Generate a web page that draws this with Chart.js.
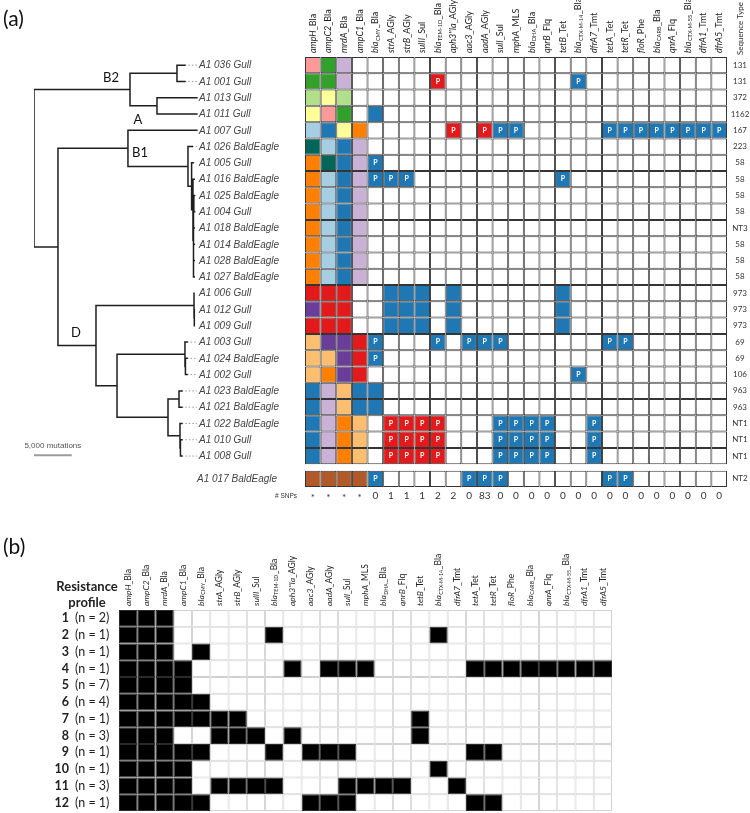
<!DOCTYPE html>
<html>
<head>
<meta charset="utf-8">
<script src="https://cdn.jsdelivr.net/npm/chart.js@4.4.0/dist/chart.umd.min.js"></script>
<style>
body{margin:0;background:#fff;}
#wrapA{position:absolute;left:0;top:0;width:750px;height:525px;}
#wrapB{position:absolute;left:0;top:525px;width:750px;height:288px;}
</style>
</head>
<body>
<div id="wrapA"><canvas id="chartA"></canvas></div>
<div id="wrapB"><canvas id="chartB"></canvas></div>
<script>
// gene columns, '|' marks the subscript part of bla names
var genes = ['ampH_Bla','ampC2_Bla','mrdA_Bla','ampC1_Bla','bla|CMY_Bla','strA_AGly','strB_AGly','sulII_Sul',
    'bla|TEM-1D_Bla',"aph3''Ia_AGly",'aac3_AGly','aadA_AGly','sulI_Sul','mphA_MLS','bla|DHA_Bla','qnrB_Flq',
    'tetB_Tet','bla|CTX-M-14_Bla','dfrA7_Tmt','tetA_Tet','tetR_Tet','floR_Phe','bla|CARB_Bla','qnrA_Flq',
    'bla|CTX-M-55_Bla','dfrA1_Tmt','dfrA5_Tmt']

var isolates = ['A1 036 Gull','A1 001 Gull','A1 013 Gull','A1 011 Gull','A1 007 Gull','A1 026 BaldEagle',
    'A1 005 Gull','A1 016 BaldEagle','A1 025 BaldEagle','A1 004 Gull','A1 018 BaldEagle','A1 014 BaldEagle',
    'A1 028 BaldEagle','A1 027 BaldEagle','A1 006 Gull','A1 012 Gull','A1 009 Gull','A1 003 Gull',
    'A1 024 BaldEagle','A1 002 Gull','A1 023 BaldEagle','A1 021 BaldEagle','A1 022 BaldEagle','A1 010 Gull',
    'A1 008 Gull','A1 017 BaldEagle']
var rowPos = [1,2,3,4,5,6,7,8,9,10,11,12,13,14,15,16,17,18,19,20,21,22,23,24,25,26.4]
var seqTypes = ['131','131','372','1162','167','223','58','58','58','58','NT3','58','58','58',
    '973','973','973','69','69','106','963','963','NT1','NT1','NT1','NT2']

// allele types of the first four genes
var alleles = [
    ['pk','g','lp',''], ['g','g','lp',''], ['lg','y','lg',''], ['y','pk','g',''],
    ['lb','b','y','o'], ['t','lb','b','lp'], ['o','t','b','lp'],
    ['o','lb','b','lp'], ['o','lb','b','lp'], ['o','lb','b','lp'], ['o','lb','b','lp'],
    ['o','lb','b','lp'], ['o','lb','b','lp'], ['o','lb','b','lp'],
    ['r','r','r',''], ['pu','r','r',''], ['r','r','r',''],
    ['lo','pu','pu','r'], ['lo','lo','pu','r'], ['lo','o','pu','r'],
    ['b','lp','lo','b'], ['b','lp','lo','b'],
    ['b','lp','o','lo'], ['b','lp','o','lo'], ['b','lp','o','lo'],
    ['br','br','br','br']
]
var alleleColor = {pk:'#fb9a99', g:'#33a02c', lp:'#cab2d6', lg:'#b2df8a', y:'#ffff99', lb:'#a6cee3',
    b:'#1f78b4', o:'#ff7f00', t:'#006658', r:'#e31a1c', pu:'#6a3d9a', lo:'#fdbf6f', br:'#b15928', '':'#ffffff'}

// genes 5..27: b = blue, B = blue plasmid, R = red plasmid
var genesFound = [
    '.......................', '....R........B.........', '.......................', 'b......................',
    '.....R.RBB.....BBBBBBBB', '.......................', 'B......................', 'BBB.........B..........',
    '.......................', '.......................', '.......................', '.......................',
    '.......................', '.......................',
    '.bbb.b......b..........', '.bbb.b......b..........', '.bbb.b......b..........',
    'B...B.BBB......BB......', 'B......................', '.............B.........',
    'b......................', 'b......................',
    '.RRRR...BBBB..B........', '.RRRR...BBBB..B........', '.RRRR...BBBB..B........',
    'B.....BBB......BB......'
]
var snps = ['*','*','*','*','0','1','1','1','2','2','0','83','0','0','0','0','0','0','0','0','0','0','0','0','0','0','0']

// tree: tip and node depths in mutations, node children (number = leaf row, 'nX' = node)
var tipDepth = [20000,20000,21600,21600,21600,21000,21100,21250,21300,21300,21250,21250,21250,21250,
    21300,21300,21300,20300,20300,20300,19600,19600,19600,19600,19600]
var nodeDepth = [0,12730,18960,16310,3180,12460,20420,20900,21080,21150,21200,8220,21220,21260,
    11010,20020,20080,17770,19230,19360,19420]
var nodeKids = [['n1','n4'],['n2','n3'],[0,1],[2,3],['n5','n11'],[4,'n6'],[5,'n7'],[6,'n8'],[7,'n9'],
    ['n10',10,11,12,13],[8,9],['n12','n14'],[14,'n13'],[15,16],['n15','n17'],[17,'n16'],[18,19],
    ['n18','n19'],[20,21],[22,'n20'],[23,24]]
var labelDepth = 21750
var cladeNames = ['B2','A','B1','D']
var cladeX = [10210,13790,14060,5570]
var cladeY = [1.79,4.37,6.4,17.45]
var scaleBar = 5000

// panel (b)
var profileCounts = [2,1,1,1,7,4,1,3,1,1,3,1]
var profiles = [
    'xxx........................', 'xxx.....x........x.........', 'xxx.x......................',
    'xxxx.....x.xxx.....xxxxxxxx', 'xxxx.......................', 'xxxxx......................',
    'xxxxxxx.........x..........', 'xxx..xxx.x......x..........', 'xxxxx...x.xxx......xx......',
    'xxxx.............x.........', 'xxxx.xxxx...xxxx..x........', 'xxxxx.....xxx......xx......'
]

function nodeY(k){
    if (typeof k === 'number') return rowPos[k]
    var kids = nodeKids[+k.slice(1)]
    return (nodeY(kids[0]) + nodeY(kids[kids.length-1])) / 2
}
function nodeX(k){
    return typeof k === 'number' ? tipDepth[k] : nodeDepth[+k.slice(1)]
}

var treeSegs = []
for (var n = 0; n < nodeKids.length; n++){
    var kids = nodeKids[n], d = nodeDepth[n]
    treeSegs.push({x:d, y:nodeY(kids[0])}, {x:d, y:nodeY(kids[kids.length-1])}, {x:null, y:null})
    kids.forEach(function(k){
        treeSegs.push({x:d, y:nodeY(k)}, {x:nodeX(k), y:nodeY(k)}, {x:null, y:null})
    })
}
var guideSegs = []
tipDepth.forEach(function(t, i){
    if (labelDepth - t > 500) guideSegs.push({x:t, y:rowPos[i]}, {x:labelDepth - 150, y:rowPos[i]}, {x:null, y:null})
})

function cellColor(i, j){
    if (j < 4) return alleleColor[alleles[i][j]]
    var c = genesFound[i][j-4]
    if (c === 'R') return '#e31a1c'
    if (c === 'B' || c === 'b') return '#1f78b4'
    return '#ffffff'
}

function drawGene(ctx, name, x, y, size){
    var cut = name.lastIndexOf('_')
    var gene = name.slice(0, cut), suffix = name.slice(cut), sub = ''
    if (gene.indexOf('|') >= 0){ sub = gene.split('|')[1]; gene = gene.split('|')[0] }
    ctx.save()
    ctx.translate(x, y)
    ctx.rotate(-Math.PI/2)
    ctx.textAlign = 'left'
    ctx.textBaseline = 'middle'
    var pos = 0
    ctx.font = 'italic ' + size + 'px Lato'
    ctx.fillText(gene, pos, 0)
    pos += ctx.measureText(gene).width
    if (sub){
        ctx.font = (size*0.62) + 'px Lato'
        ctx.fillText(sub, pos + 0.5, size*0.3)
        pos += ctx.measureText(sub).width + 1
    }
    ctx.font = size + 'px Lato'
    ctx.fillText(suffix, pos, 0)
    ctx.restore()
}

var barsA = genes.map(function(g, j){
    return {
        type: 'bar', indexAxis: 'y', grouped: false, xAxisID: 'x', yAxisID: 'y',
        data: rowPos.map(function(p){ return {y:p, x:[j, j+1]} }),
        backgroundColor: rowPos.map(function(p, i){ return cellColor(i, j) }),
        borderColor: '#353535', borderWidth: 1, borderSkipped: false, inflateAmount: 0,
        barPercentage: 1, categoryPercentage: 1
    }
})

var panelA = {
    id: 'panelA',
    afterDatasetsDraw: function(chart){
        var ctx = chart.ctx, x = chart.scales.x, xt = chart.scales.xt, y = chart.scales.y
        ctx.save()
        ctx.fillStyle = '#111'
        ctx.font = '21px Lato'
        ctx.textAlign = 'left'
        ctx.textBaseline = 'middle'
        ctx.fillText('(a)', 3, 19)

        ctx.fillStyle = '#222'
        genes.forEach(function(g, j){ drawGene(ctx, g, x.getPixelForValue(j + 0.5), 53, 9) })
        ctx.save()
        ctx.translate(740, 55)
        ctx.rotate(-Math.PI/2)
        ctx.font = '8px Lato'
        ctx.fillStyle = '#333'
        ctx.fillText('Sequence Type', 0, 0)
        ctx.restore()

        ctx.font = '8px Lato'
        ctx.fillStyle = '#333'
        ctx.textAlign = 'center'
        seqTypes.forEach(function(s, i){ ctx.fillText(s, 740, y.getPixelForValue(rowPos[i])) })

        ctx.font = 'italic 10px "Liberation Sans"'
        ctx.fillStyle = '#444'
        ctx.textAlign = 'left'
        isolates.forEach(function(s, i){
            var lx = xt.getPixelForValue(labelDepth) + (i === 25 ? -1 : 1)
            ctx.fillText(s, lx, y.getPixelForValue(rowPos[i]) + 0.5)
        })

        ctx.font = '13px Lato'
        ctx.fillStyle = '#111'
        ctx.textAlign = 'center'
        cladeNames.forEach(function(c, i){ ctx.fillText(c, xt.getPixelForValue(cladeX[i]), y.getPixelForValue(cladeY[i])) })

        ctx.font = 'bold 7px Lato'
        ctx.fillStyle = '#ffffff'
        genesFound.forEach(function(r, i){
            for (var j = 0; j < r.length; j++){
                if (r[j] === 'B' || r[j] === 'R')
                    ctx.fillText('P', x.getPixelForValue(j + 4.5), y.getPixelForValue(rowPos[i]))
            }
        })

        var sy = y.getPixelForValue(rowPos[25]) + 17
        ctx.fillStyle = '#333'
        ctx.font = '10px Lato'
        snps.forEach(function(s, j){ ctx.fillText(s, x.getPixelForValue(j + 0.5), sy + (s === '*' ? 2 : 0)) })
        ctx.font = '6.5px "Liberation Sans"'
        ctx.textAlign = 'right'
        ctx.fillText('# SNPs', 297, sy)

        ctx.font = '8px "Liberation Sans"'
        ctx.fillStyle = '#555'
        ctx.textAlign = 'center'
        ctx.fillText('5,000 mutations', xt.getPixelForValue(scaleBar/2), y.getPixelForValue(24.95) - 9)
        ctx.restore()
    }
}

var chartA = new Chart(document.getElementById('chartA').getContext('2d'), {
    type: 'scatter',
    data: {
        datasets: [{
            data: treeSegs, xAxisID: 'xt', yAxisID: 'y', showLine: true, pointRadius: 0,
            borderColor: '#1e1e1e', borderWidth: 1.5, borderCapStyle: 'square', spanGaps: false
        }, {
            data: guideSegs, xAxisID: 'xt', yAxisID: 'y', showLine: true, pointRadius: 0,
            borderColor: '#9a9a9a', borderWidth: 1, borderDash: [1.5, 2], spanGaps: false
        }, {
            data: [{x:0, y:24.95}, {x:scaleBar, y:24.95}], xAxisID: 'xt', yAxisID: 'y', showLine: true,
            pointRadius: 0, borderColor: '#9a9a9a', borderWidth: 2
        }].concat(barsA)
    },
    options: {
        responsive: true, maintainAspectRatio: false, animation: false, events: [],
        layout: {padding: {left: 34, right: 23, top: 57, bottom: 38}},
        plugins: {legend: {display: false}, tooltip: {enabled: false}},
        scales: {
            x: {type: 'linear', display: false, min: -17.34, max: 27, offset: false},
            xt: {type: 'linear', position: 'bottom', display: false, min: 0, max: 91900, offset: false},
            y: {type: 'linear', display: false, reverse: true, min: 0.5, max: 26.9, offset: false, ticks: {stepSize: 100}}
        }
    },
    plugins: [panelA]
});

var rowsB = profiles.map(function(p, i){ return i + 1 })
var barsB = genes.map(function(g, j){
    return {
        type: 'bar', indexAxis: 'y', grouped: false,
        data: rowsB.map(function(r){ return {y:r, x:[j, j+1]} }),
        backgroundColor: profiles.map(function(p){ return p[j] === 'x' ? '#000000' : '#ffffff' }),
        borderColor: profiles.map(function(p){ return p[j] === 'x' ? '#2a2a2a' : '#d2d2d2' }),
        borderWidth: 1, borderSkipped: false, inflateAmount: 0,
        barPercentage: 1, categoryPercentage: 1
    }
})

var panelB = {
    id: 'panelB',
    afterDatasetsDraw: function(chart){
        var ctx = chart.ctx, x = chart.scales.x, y = chart.scales.y
        ctx.save()
        ctx.fillStyle = '#111'
        ctx.font = '21px Lato'
        ctx.textAlign = 'left'
        ctx.textBaseline = 'middle'
        ctx.fillText('(b)', 3, 22)

        ctx.fillStyle = '#222'
        genes.forEach(function(g, j){ drawGene(ctx, g, x.getPixelForValue(j + 0.5), 81, 8.5) })

        ctx.font = 'bold 13px Lato'
        ctx.textAlign = 'center'
        ctx.fillText('Resistance', 87, 62)
        ctx.fillText('profile', 87, 78)

        profileCounts.forEach(function(c, i){
            var py = y.getPixelForValue(rowsB[i])
            ctx.font = 'bold 12.5px Lato'
            ctx.textAlign = 'right'
            ctx.fillText(String(i + 1), 69, py)
            ctx.font = '12.5px Lato'
            ctx.textAlign = 'left'
            ctx.fillText('(n = ' + c + ')', 75, py)
        })
        ctx.restore()
    }
}

var chartB = new Chart(document.getElementById('chartB').getContext('2d'), {
    type: 'bar',
    data: {datasets: barsB},
    options: {
        responsive: true, maintainAspectRatio: false, animation: false, events: [],
        layout: {padding: {left: 119, right: 138, top: 85, bottom: 2}},
        plugins: {legend: {display: false}, tooltip: {enabled: false}},
        scales: {
            x: {type: 'linear', display: false, min: 0, max: 27, offset: false},
            y: {type: 'linear', display: false, reverse: true, min: 0.5, max: 12.5, offset: false, ticks: {stepSize: 100}}
        }
    },
    plugins: [panelB]
});
</script>
</body>
</html>
